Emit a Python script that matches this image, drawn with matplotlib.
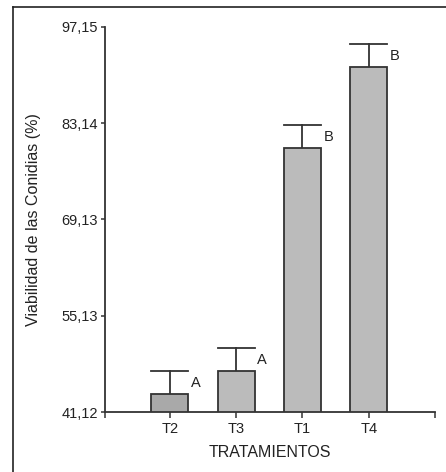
import matplotlib
matplotlib.use("Agg")
import matplotlib.pyplot as plt
from matplotlib.lines import Line2D

plt.rcParams['font.family'] = ['Liberation Sans', 'DejaVu Sans']

categories = ["T2", "T3", "T1", "T4"]
means = [43.69, 47.08, 79.55, 91.24]
errors = [3.39, 3.35, 3.35, 3.39]
letters = ["A", "A", "B", "B"]
colors = ["#a9a9a9", "#bbbbbb", "#bbbbbb", "#bbbbbb"]
yticks = [41.12, 55.13, 69.13, 83.14, 97.15]
ytick_labels = ["41,12", "55,13", "69,13", "83,14", "97,15"]

W, H = 446, 472
fig = plt.figure(figsize=(W / 100, H / 100), dpi=100)
ax = fig.add_axes([105 / W, 1 - 412 / H, 330 / W, (412 - 26.7) / H])

ec = "#333333"
x = list(range(len(categories)))
bw = 0.56
ax.bar(x, means, width=bw, color=colors, edgecolor=ec, linewidth=1.3, zorder=2, bottom=0)
for xi, m, e in zip(x, means, errors):
    ax.plot([xi, xi], [m, m + e], color=ec, lw=1.3, zorder=1)
    ax.plot([xi - bw / 2, xi + bw / 2], [m + e, m + e], color=ec, lw=1.3, zorder=1)
for xi, m, e, lab in zip(x, means, errors, letters):
    ax.text(xi + 0.32, m + e - 1.75, lab, ha="left", va="center", fontsize=10.5, color="#222222")

ax.set_xlim(-0.98, 4.0)
ax.set_ylim(41.12, 97.15)
ax.set_yticks(yticks)
ax.set_yticklabels(ytick_labels)
ax.set_xticks(x)
ax.set_xticklabels(categories)
ax.set_xticks([-0.98, 4.0], minor=True)
ax.tick_params(axis="x", which="both", direction="out", length=4, width=1.1, color=ec,
               labelsize=10.5, labelcolor="#222222", pad=3)
ax.tick_params(axis="y", direction="out", length=3, width=1.1, color=ec,
               labelsize=10.5, labelcolor="#222222", pad=2)
for s in ["top", "right"]:
    ax.spines[s].set_visible(False)
for s in ["left", "bottom"]:
    ax.spines[s].set_color(ec)
    ax.spines[s].set_linewidth(1.3)
ax.set_xlabel("TRATAMIENTOS", fontsize=11.5, color="#222222", labelpad=7)
ax.set_ylabel("Viabilidad de las Conidias (%)", fontsize=11.5, color="#222222", labelpad=15)

fig.add_artist(Line2D([13 / W, 13 / W], [0, 1 - 7 / H], color="#222222", lw=1.2, transform=fig.transFigure))
fig.add_artist(Line2D([13 / W, 1], [1 - 7 / H, 1 - 7 / H], color="#222222", lw=1.2, transform=fig.transFigure))

fig.savefig("out.png", dpi=100)
